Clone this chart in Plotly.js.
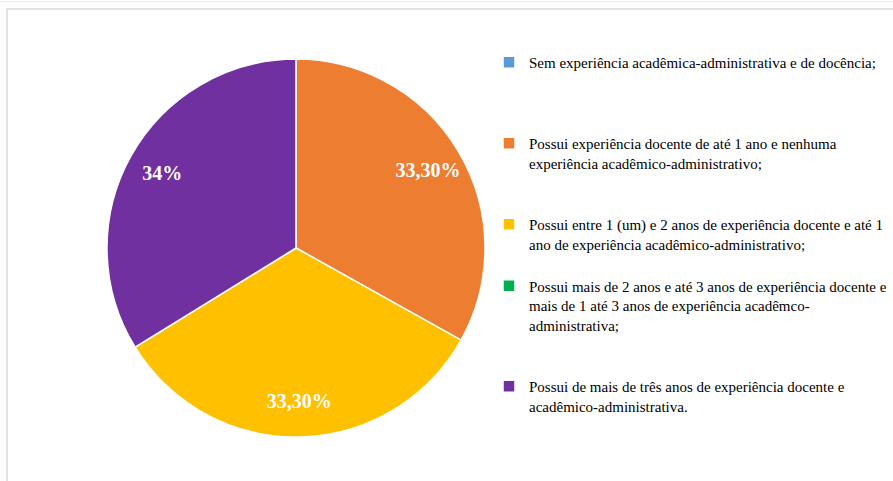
<!DOCTYPE html>
<html>
<head>
<meta charset="utf-8">
<script src="https://cdn.plot.ly/plotly-3.0.1.min.js"></script>
<style>html,body{margin:0;padding:0;background:#fff;}#chart{width:893px;height:481px;}</style>
</head>
<body>
<div id="chart"></div>
<script>
const categories = [
  "Sem experiência acadêmica-administrativa e de docência;",
  "Possui experiência docente de até 1 ano e nenhuma<br>experiência acadêmico-administrativo;",
  "Possui entre 1 (um) e 2 anos de experiência docente e até 1<br>ano de experiência acadêmico-administrativo;",
  "Possui mais de 2 anos e até 3 anos de experiência docente e<br>mais de 1 até 3 anos de experiência acadêmco-<br>administrativa;",
  "Possui de mais de três anos de experiência docente e<br>acadêmico-administrativa."
];
const values = [0, 33.3, 33.3, 0, 34];
const valueLabels = ["", "33,30%", "33,30%", "", "34%"];
const colors = ["#5b9bd5", "#ed7d31", "#ffc000", "#00b050", "#7030a0"];
// extra blank lines to reproduce vertical spacing of legend entries
const legendPad = ["<br> <br> <br> ", "<br> <br> ", "<br> ", "<br> <br> ", ""];

const SERIF = "Liberation Serif";
const pieDomain = {x: [107/893, 485/893], y: [44/481, 422/481]};

const slices = {
  type: "pie",
  labels: categories.map((c, i) => c + legendPad[i]),
  values: values,
  textinfo: "none",
  hoverinfo: "none",
  sort: false,
  direction: "clockwise",
  rotation: 0,
  marker: {colors: colors, line: {color: "#ffffff", width: 1.5}},
  domain: pieDomain
};

// transparent ring that carries the data labels in the outer part of each slice
const labelRing = {
  type: "pie",
  labels: categories.map((c, i) => c + legendPad[i]),
  values: values,
  text: valueLabels,
  textinfo: "text",
  texttemplate: "%{text}",
  hoverinfo: "none",
  sort: false,
  direction: "clockwise",
  rotation: 0,
  hole: 0.62,
  showlegend: false,
  textposition: "inside",
  insidetextorientation: "horizontal",
  textfont: {family: SERIF, size: 20, color: "#ffffff", weight: "bold"},
  marker: {colors: colors.map(() => "rgba(0,0,0,0)"), line: {width: 0}},
  domain: pieDomain
};

const layout = {
  width: 893, height: 481,
  margin: {l: 0, r: 0, t: 0, b: 0, autoexpand: false},
  paper_bgcolor: "#ffffff",
  font: {family: SERIF, color: "#000000"},
  showlegend: true,
  legend: {
    x: 489/893, y: 1 - 46/481, xanchor: "left", yanchor: "top",
    valign: "top",
    font: {family: SERIF, size: 15, color: "#000000"},
    bgcolor: "rgba(0,0,0,0)",
    itemclick: false, itemdoubleclick: false
  },
  shapes: [
    {type: "rect", xref: "paper", yref: "paper", x0: 7/893, x1: 1.05, y0: -0.05, y1: 1 - 9/481,
     line: {color: "#d9d9d9", width: 1.5}, fillcolor: "rgba(0,0,0,0)", layer: "below"},
    {type: "line", xref: "paper", yref: "paper", x0: 0, x1: 1, y0: 1 - 1.5/481, y1: 1 - 1.5/481,
     line: {color: "#f0f0f0", width: 1}}
  ]
};

Plotly.newPlot("chart", [slices, labelRing], layout, {displayModeBar: false, staticPlot: true});
</script>
</body>
</html>
